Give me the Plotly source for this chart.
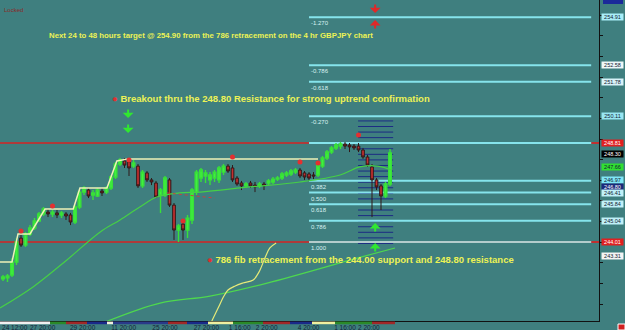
import plotly.graph_objects as go

# ---------------- data ----------------
bar_index = list(range(87))
opens = [242.22,242.27,242.41,243.04,244.20,243.86,244.40,244.69,245.03,245.37,
         245.46,245.37,245.42,245.32,245.37,245.32,244.98,245.71,246.43,246.53,
         246.29,246.24,246.48,246.43,246.63,247.16,247.79,247.94,247.89,247.69,
         247.69,246.73,247.36,247.02,246.87,246.29,246.29,247.02,245.80,244.59,
         244.88,244.59,245.08,246.43,247.11,247.21,247.02,247.11,247.02,247.40,
         247.69,247.60,247.11,246.87,246.73,246.87,246.77,246.73,246.82,246.87,
         246.92,247.06,247.11,247.26,247.31,247.40,247.50,247.36,247.31,247.26,
         247.26,247.69,248.08,248.37,248.57,248.66,248.76,248.71,248.66,248.66,
         248.47,248.13,247.65,247.02,246.73,246.24,246.82]
closes = [242.31,242.36,243.04,244.01,243.86,244.40,244.69,245.03,245.37,245.61,
          245.37,245.46,245.32,245.42,245.27,244.98,245.71,246.43,246.63,246.24,
          246.39,246.53,246.39,246.63,247.16,247.79,247.99,247.74,247.60,247.84,
          246.73,247.40,247.02,246.92,246.19,246.53,247.11,245.80,244.59,244.79,
          244.59,245.17,246.53,247.40,247.50,247.36,247.26,247.40,247.60,247.69,
          247.45,247.02,246.82,246.73,246.82,246.73,246.68,246.82,246.73,246.97,
          247.06,247.11,247.31,247.36,247.45,247.50,247.21,247.16,247.11,247.21,
          247.74,248.08,248.37,248.57,248.71,248.76,248.66,248.62,248.57,248.47,
          248.13,247.74,247.02,246.68,246.24,246.82,248.33]
highs = [242.41,242.46,243.23,244.20,244.35,244.50,244.83,245.17,245.46,245.71,
         245.61,245.56,245.56,245.51,245.46,245.42,245.80,246.53,246.73,246.63,
         246.53,246.63,246.63,246.73,247.26,247.89,248.08,248.08,247.99,247.99,
         247.79,247.50,247.45,247.11,246.97,246.63,247.21,247.11,245.90,244.88,
         244.98,245.32,246.63,247.50,247.60,247.50,247.40,247.50,247.69,247.79,
         247.79,247.74,247.21,246.97,246.92,246.97,246.92,246.92,246.92,247.06,
         247.16,247.21,247.40,247.45,247.55,247.60,247.60,247.45,247.40,247.40,
         247.84,248.18,248.47,248.66,248.81,248.86,248.86,248.81,248.76,248.81,
         248.57,248.23,247.79,247.11,246.82,246.92,248.52]
lows = [242.12,242.07,242.31,242.89,243.77,243.77,244.30,244.59,244.98,245.27,
        245.22,245.22,245.17,245.17,245.08,244.83,244.88,245.61,246.29,246.14,
        246.05,246.19,246.24,246.34,246.53,247.06,247.69,247.60,247.21,247.60,
        246.63,246.63,246.92,246.77,246.14,245.42,246.19,245.71,244.11,244.01,
        244.11,244.20,244.88,246.29,246.92,246.87,246.77,246.92,246.87,247.26,
        247.36,246.92,246.73,246.53,246.63,246.63,246.43,246.63,246.53,246.77,
        246.82,246.97,247.02,247.16,247.21,247.31,247.11,247.02,246.97,247.06,
        247.16,247.60,247.99,248.28,248.47,248.52,248.52,248.37,248.47,248.37,
        248.04,247.65,245.22,246.53,245.56,246.14,246.73]

fractal_bars = [4, 11, 28, 40, 51, 66, 70, 79]
fractal_prices = [244.54, 245.75, 247.99, 245.03, 248.13, 247.89, 247.84, 249.20]

ma_fast_bars = [-0.67, 6.67, 14.2, 21.6, 26.0, 30.4, 34.2, 39.3, 43.8, 54.9, 66.0, 74.9, 79.3, 83.3, 86.4]
ma_fast_vals = [240.81, 241.83, 243.14, 244.50, 245.08, 245.71, 246.19, 246.39, 246.43, 246.68, 246.92, 247.26, 247.65, 247.69, 247.50]

ma_slow_bars = [22.7, 34.9, 46.0, 58.7, 78.7, 87.1]
ma_slow_vals = [240.13, 241.05, 241.39, 242.02, 243.23, 243.72]

osc_bars = [46.4, 47.8, 49.1, 50.0, 51.6, 53.3, 55.6, 56.9, 58.2, 59.3, 60.7]
osc_vals = [240.18, 240.81, 241.39, 241.68, 241.88, 242.02, 242.17, 242.56, 243.23, 243.72, 243.96]

step_bars = [-0.67, 2.0, 3.33, 6.0, 9.33, 15.6, 17.1, 23.1, 25.3, 27.8, 70.0]
step_vals = [243.04, 243.04, 244.40, 244.40, 245.61, 245.61, 246.63, 246.63, 247.94, 248.04, 248.04]

red_trail_bars = [36.4, 47.1]
red_trail_vals = [246.39, 246.14]

resistance = 248.81
support = 244.01
fib_ratios = [-1.270, -0.786, -0.618, -0.270, 0.0, 0.382, 0.500, 0.618, 0.786, 1.000]
fib_labels = ["-1.270", "-0.786", "-0.618", "-0.270", "", "0.382", "0.500", "0.618", "0.786", "1.000"]

grid_prices = [249.88, 249.61, 249.34, 249.07, 248.80, 248.53, 248.26, 247.99, 247.72, 247.45,
               247.18, 246.91, 246.64, 246.37, 246.10, 245.83, 245.56, 245.29, 245.02, 244.75,
               244.48, 244.21, 243.94]

axis_label_prices = [254.91, 252.58, 251.78, 250.11, 248.81, 248.30, 247.66, 246.97, 246.80, 246.41, 245.84, 245.04, 244.01, 243.31]
axis_label_bg = ['#a8eef8', '#eef8f8', '#d8f2f8', '#98e6f2', '#e02020', '#000000', '#30e030', '#80e6f6',
                 '#1a2a7a', '#c0f0f8', '#c0f0f8', '#c0f0f8', '#e02020', '#f4f4f4']
axis_label_fg = ['#102030', '#102030', '#102030', '#102030', '#ffffff', '#ffffff', '#102030', '#102030',
                 '#ffffff', '#102030', '#102030', '#102030', '#ffffff', '#102030']
axis_label_shift = [0, 0, 0, 0, 0, 0, 0, 1, -3, 0, 0, 0, 0, 0]

date_ticks = [2.6, 8.8, 17.7, 26.8, 36.0, 45.2, 52.6, 58.6, 67.9, 76.0, 81.3]
date_labels = ["24 12:00", "27 20:00", "29 20:00", "11 20:00", "25 20:00", "27 20:00",
               "1 16:00", "2 20:00", "4 20:00", "1 16:00", "2 20:00"]

# ---------------- layout constants ----------------
X0, X1 = -0.667, 132.44
Y0, Y1 = 240.18, 255.743
FIB_START, FIB_END = 68.0, 130.7
GRID_START, GRID_END = 78.9, 86.7
BG = '#3f7f7f'
YELLOW = '#ecf255'

fig = go.Figure()

fig.add_trace(go.Scatter(x=ma_slow_bars, y=ma_slow_vals, mode='lines', line=dict(color='#4ed84e', width=1.2, shape='spline'), hoverinfo='skip'))
fig.add_trace(go.Scatter(x=osc_bars, y=osc_vals, mode='lines', line=dict(color='#e6ea78', width=1.2, shape='spline'), hoverinfo='skip'))
fig.add_trace(go.Scatter(x=ma_fast_bars, y=ma_fast_vals, mode='lines', line=dict(color='#46d046', width=1.2, shape='spline'), hoverinfo='skip'))
fig.add_trace(go.Scatter(x=step_bars, y=step_vals, mode='lines', line=dict(color='#eef2b8', width=1.5), hoverinfo='skip'))
fig.add_trace(go.Scatter(x=red_trail_bars, y=red_trail_vals, mode='lines', line=dict(color='#c84040', width=1, dash='dot'), hoverinfo='skip'))

fig.add_trace(go.Candlestick(
    x=bar_index, open=opens, high=highs, low=lows, close=closes,
    increasing=dict(fillcolor='#40f040', line=dict(color='#38e038', width=1.4)),
    decreasing=dict(fillcolor='#c43030', line=dict(color='#301818', width=1)),
    whiskerwidth=0, hoverinfo='skip'))

fig.add_trace(go.Scatter(x=fractal_bars, y=fractal_prices, mode='markers',
                         marker=dict(color='#e43030', size=5, symbol='circle'), hoverinfo='skip'))

shapes = []
shapes.append(dict(type='line', xref='x', yref='y', x0=X0, x1=FIB_START, y0=resistance, y1=resistance,
                   line=dict(color='#b03a3a', width=2), layer='below'))
shapes.append(dict(type='line', xref='x', yref='y', x0=X0, x1=FIB_START, y0=support, y1=support,
                   line=dict(color='#b03a3a', width=2), layer='below'))
for p in (resistance, support):
    shapes.append(dict(type='line', xref='x', yref='y', x0=FIB_END, x1=X1, y0=p, y1=p,
                       line=dict(color='#c03030', width=2), layer='below'))
for gp in grid_prices:
    shapes.append(dict(type='line', xref='x', yref='y', x0=GRID_START, x1=GRID_END, y0=gp, y1=gp,
                       line=dict(color='#1c2c84', width=1), layer='below'))
fib_range = resistance - support
for r in fib_ratios:
    p = resistance - r * fib_range
    col = '#b4cccc' if r == 1.0 else '#86e4ec'
    shapes.append(dict(type='line', xref='x', yref='y', x0=FIB_START, x1=FIB_END, y0=p, y1=p,
                       line=dict(color=col, width=2), layer='below'))

strip = [(0, 50, '#f0f0f0'), (50, 66, '#2a8a2a'), (66, 87, '#a02828'), (87, 107, '#1a2a8a'),
         (107, 113, '#f0f0e0'), (113, 168, '#2a3a8a'), (168, 187, '#a02828'), (187, 208, '#1a2a8a'),
         (208, 233, '#f0f0a0'), (233, 263, '#2a8a2a'), (263, 290, '#a02828'), (290, 312, '#1a2a8a'),
         (312, 335, '#f0f0a0'), (335, 372, '#2a8a2a'), (372, 395, '#a02828')]
for a, b, c in strip:
    shapes.append(dict(type='rect', xref='paper', yref='paper', x0=a / 599, x1=b / 599,
                       y0=-3.2 / 321, y1=-0.6 / 321, line=dict(width=0), fillcolor=c))
shapes.append(dict(type='rect', xref='paper', yref='paper', x0=603 / 599, x1=623 / 599,
                   y0=1 - 4 / 321, y1=1, line=dict(width=0), fillcolor='#1a2a9a'))
shapes.append(dict(type='rect', xref='paper', yref='paper', x0=618 / 599, x1=625 / 599,
                   y0=-9 / 321, y1=-3 / 321, line=dict(color='#ffffff', width=1), fillcolor='#d02020'))

annotations = []
for r, lab in zip(fib_ratios, fib_labels):
    if lab:
        annotations.append(dict(x=FIB_START, y=resistance - r * fib_range, xref='x', yref='y', text=lab,
                                showarrow=False, xanchor='left', yanchor='top', yshift=-1,
                                font=dict(size=6, color='#d8f2f2', family='Arial')))
for p, bg, fg, sh in zip(axis_label_prices, axis_label_bg, axis_label_fg, axis_label_shift):
    annotations.append(dict(x=1, y=p, xref='paper', yref='y', text=f"{p:.2f}", showarrow=False,
                            xanchor='left', xshift=2, yanchor='middle', yshift=sh, bgcolor=bg, borderpad=0,
                            width=21, height=6, font=dict(size=5.5, color=fg, family='Arial')))
annotations.append(dict(x=47 / 599, y=1 - 35 / 321, xref='paper', yref='paper', xanchor='left', yanchor='middle',
                        text="<b>Next 24 to 48 hours target @ 254.90 from the 786 retracement on the 4 hr GBPJPY chart</b>",
                        showarrow=False, font=dict(size=7.8, color=YELLOW, family='Arial')))
annotations.append(dict(x=110 / 599, y=1 - 98 / 321, xref='paper', yref='paper', xanchor='left', yanchor='middle',
                        text="<span style='color:#e03030'>●</span> <b>Breakout thru the 248.80 Resistance for strong uptrend confirmation</b>",
                        showarrow=False, font=dict(size=9.5, color=YELLOW, family='Arial')))
annotations.append(dict(x=205 / 599, y=1 - 259 / 321, xref='paper', yref='paper', xanchor='left', yanchor='middle',
                        text="<span style='color:#e03030'>●</span> <b>786 fib retracement from the 244.00 support and 248.80 resistance</b>",
                        showarrow=False, font=dict(size=9.5, color=YELLOW, family='Arial')))
annotations.append(dict(x=2 / 599, y=1 - 10 / 321, xref='paper', yref='paper', xanchor='left', yanchor='middle',
                        text="Locked", showarrow=False, font=dict(size=6, color='#8a2a2a', family='Arial')))
arrows = [(82.7, 255.11, -10, '#e02828'), (82.7, 254.77, 10, '#e02828'),
          (27.8, 250.02, -10, '#30e830'), (27.8, 249.29, -10, '#30e830'),
          (82.7, 244.93, 10, '#30e830'), (82.7, 243.96, 10, '#30e830')]
for ax_x, ay_p, off, col in arrows:
    annotations.append(dict(x=ax_x, y=ay_p, xref='x', yref='y', ax=0, ay=off, axref='pixel', ayref='pixel',
                            text='', showarrow=True, arrowhead=1, arrowsize=0.9, arrowwidth=2, arrowcolor=col))

fig.update_layout(
    width=625, height=330, margin=dict(l=0, r=26, t=0, b=9, autoexpand=False),
    paper_bgcolor=BG, plot_bgcolor=BG, showlegend=False, boxgap=0.15,
    shapes=shapes, annotations=annotations,
    xaxis=dict(range=[X0, X1], showgrid=False, zeroline=False, rangeslider=dict(visible=False),
               tickvals=date_ticks, ticktext=date_labels, ticks='', ticklen=0, tickangle=0, automargin=False,
               tickfont=dict(size=6.5, color='#14243a', family='Arial'),
               showline=True, mirror=True, linecolor='#111111', linewidth=1),
    yaxis=dict(range=[Y0, Y1], side='right', showgrid=False, zeroline=False, showticklabels=False,
               ticks='outside', ticklen=3, tickcolor='#111111', dtick=1, automargin=False,
               showline=True, mirror=True, linecolor='#111111', linewidth=1),
)

fig.write_html("out.html")
